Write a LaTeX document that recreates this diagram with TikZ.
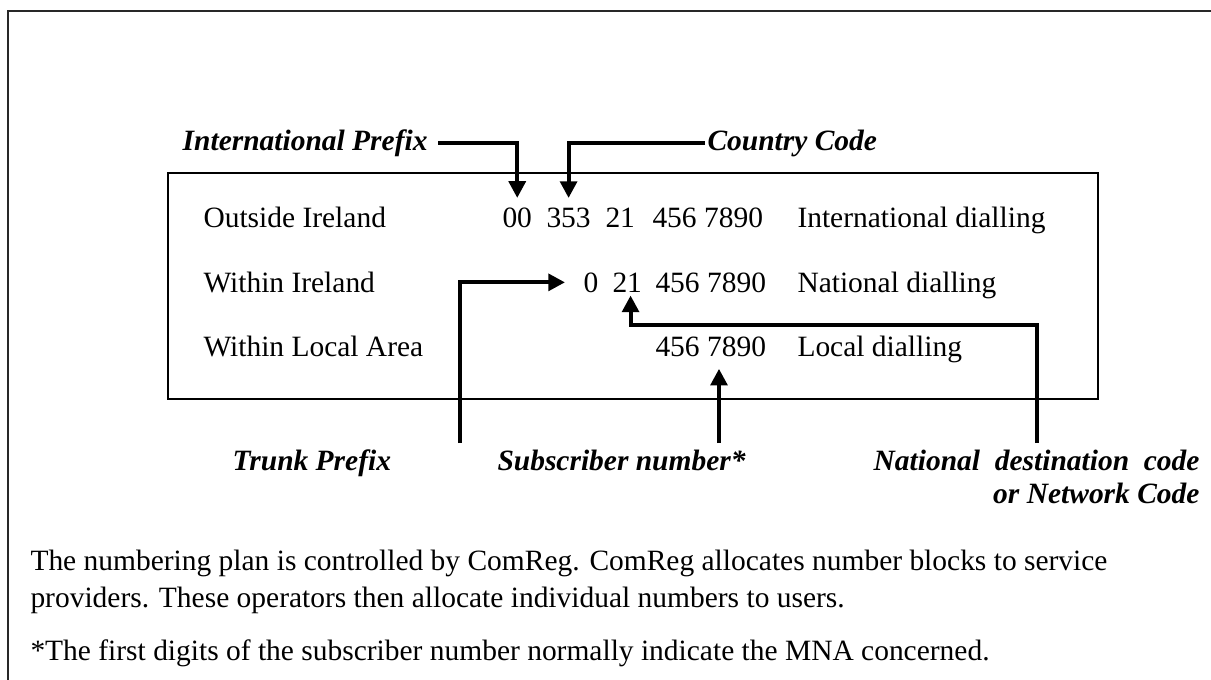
\documentclass[tikz,border=0pt]{standalone}
\usepackage{fontspec}
\setmainfont{Liberation Serif}
\usetikzlibrary{arrows.meta,positioning}
\tikzset{every picture/.style={line width=0.75pt}}

\begin{document}
\begin{tikzpicture}[x=0.75pt,y=0.75pt,yscale=-1,xscale=1,
    txt/.style={anchor=base west,inner sep=0pt,font=\fontsize{22.1}{26}\selectfont},
    lbl/.style={inner sep=0pt,font=\fontsize{22.1}{26}\selectfont\bfseries\itshape},
    pointer/.style={line width=3pt,-{Triangle[width=12.5pt,length=12.5pt]}}]
    \useasboundingbox (0,0) rectangle (1211,679);

    %Shape: Frame
    \draw [color={rgb, 255:red, 40; green, 40; blue, 40 }][line width=1.6pt] (1215,11) -- (8,11) -- (8,683) ;
    %Shape: Rectangle
    \draw [line width=1.2pt] (168,173) rectangle (1098,399) ;

    % Text Node
    \node [txt] (row1) at (203,227) {Outside Ireland};
    \node [txt] (row2) at (203,292) {Within Ireland};
    \node [txt] (row3) at (203,356) {Within Local Area};
    % Text Node
    \node [txt] (i00) at (502,227) {00};
    \node [txt] (i353) at (546,227) {353};
    \node [txt] (i21) at (605,227) {21};
    \node [txt] (inum) at (652,227) {456 7890};
    \node [txt] (n0) at (583,292) {0};
    \node [txt] (n21) at (612,292) {21};
    \node [txt] (nnum) at (655,292) {456 7890};
    \node [txt] (lnum) at (655,356) {456 7890};
    % Text Node
    \node [txt] (intl) at (797,227) {International dialling};
    \node [txt] (natl) at (797,292) {National dialling};
    \node [txt] (locl) at (797,356) {Local dialling};

    % Text Node
    \node [lbl,anchor=east] (ip) at (428,143) {International Prefix};
    \node [lbl,anchor=west] (cc) at (707,143) {Country Code};
    \node [lbl,anchor=base west] (tp) at (232,470) {Trunk Prefix};
    \node [lbl,anchor=base west] (sn) at (497,470) {Subscriber number*};
    \node [lbl,anchor=base east] (ndc) at (1200,470) {National\ \ destination\ \ code};
    \node [lbl,anchor=base east] (ndc2) at (1200,503) {or Network Code};

    %Straight Lines
    \coordinate (tpfoot) at (460,443);
    \coordinate (snfoot) at (719,443);
    \coordinate (ndcfoot) at (1037,443);
    \coordinate (ndcbend) at (1037,325);
    \coordinate (sntip) at ([yshift=9pt]lnum.south);
    \draw [pointer] ([xshift=7.5pt]ip.east) -| ([yshift=-6.75pt]i00.north) ;
    \draw [pointer] ([xshift=-1.5pt]cc.west) -| ([yshift=-6.75pt]i353.north) ;
    \draw [pointer] (tpfoot) |- ([xshift=-13.5pt]n0.west) ;
    \draw [pointer] (ndcfoot) -- (ndcbend) -| ([xshift=2.5pt,yshift=2.25pt]n21.south) ;
    \draw [pointer] (snfoot) -- (snfoot |- sntip) ;

    % Text Node
    \node [txt] (para1) at (30,570) {The numbering plan is controlled by ComReg. ComReg allocates number blocks to service};
    \node [txt] (para2) at (30,607) {providers. These operators then allocate individual numbers to users.};
    \node [txt] (note) at (30,660) {*The first digits of the subscriber number normally indicate the MNA concerned.};

\end{tikzpicture}
\end{document}
